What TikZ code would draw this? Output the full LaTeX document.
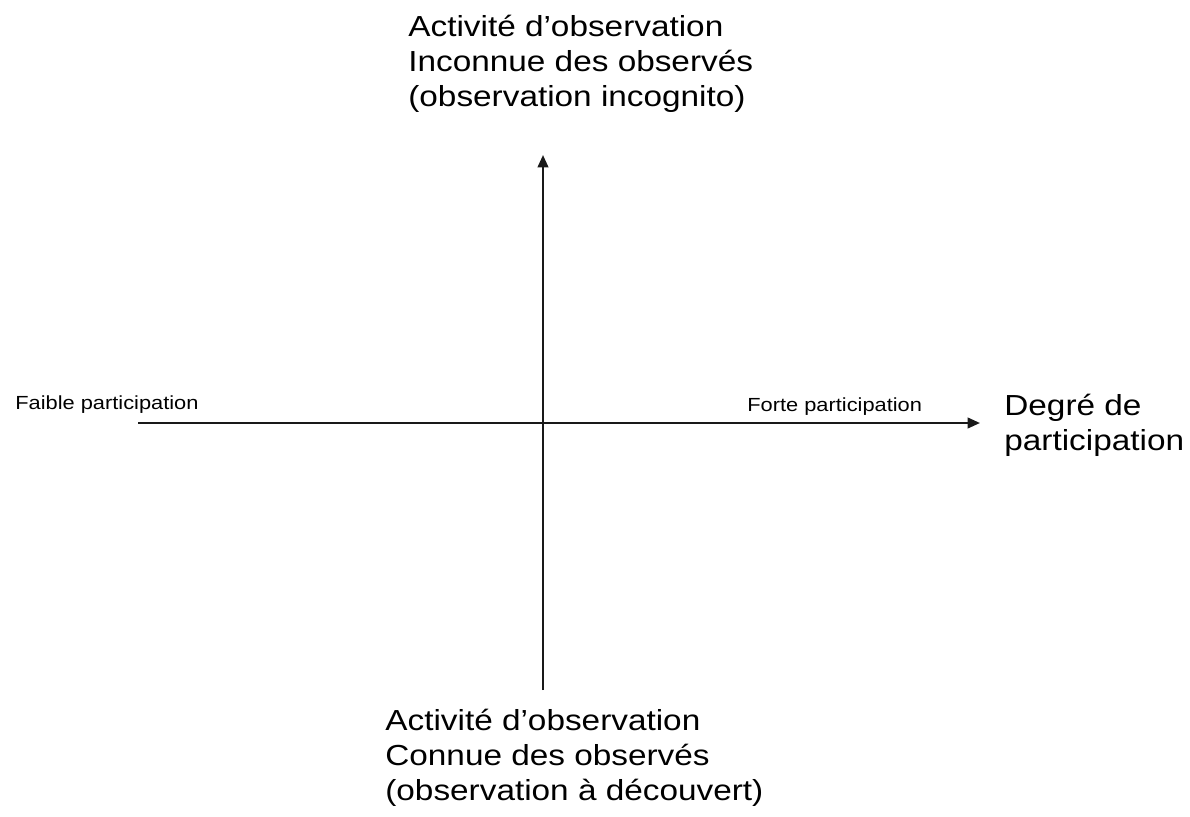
\documentclass[tikz,border=0pt]{standalone}
\usepackage{fontspec}
\setmainfont[FakeStretch=1.15]{Liberation Sans}
\usetikzlibrary{arrows.meta}

\begin{document}
\begin{tikzpicture}[x=0.02cm,y=-0.02cm,
                    axis/.style={-{Triangle[length=7pt,width=6pt]},line width=1.25pt,draw=black!90},
                    biglabel/.style={font=\fontsize{16.5}{19.9}\selectfont,align=left,anchor=base west,inner sep=0pt},
                    smalllabel/.style={font=\fontsize{10.8}{13}\selectfont,anchor=base west,inner sep=0pt}]
  \useasboundingbox (0,0) rectangle (1190,816);
  \coordinate (west) at (138,423);
  \coordinate (east) at (980,423);
  \coordinate (south) at (543,690);
  \coordinate (north) at (543,155);

  \draw[axis] (west) -- (east);
  \draw[axis] (south) -- (north);

  % base anchor = baseline of the last line
  \node[biglabel] (incognito) at (408,106) {Activité d’observation\\Inconnue des observés\\(observation incognito)};
  \node[biglabel] (decouvert) at (385,800) {Activité d’observation\\Connue des observés\\(observation à découvert)};
  \node[biglabel] (degre) at (1004,450) {Degré de\\participation};
  \node[smalllabel] (faible) at (15,409) {Faible participation};
  \node[smalllabel] (forte) at (747,411) {Forte participation};
\end{tikzpicture}
\end{document}
